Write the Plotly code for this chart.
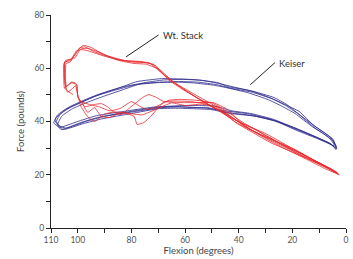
import plotly.graph_objects as go

# ---- Wt. Stack (red) repetitions: flexion (deg), force (lb) ----
red1_x = [101.8, 104.4, 104.8, 104.8, 102.9, 101.1, 99.3, 97.4, 93.8, 86.4, 77.9, 73.5, 68.8, 62.5, 56.3, 47.8, 40.4, 29.4, 18.4, 11.0, 2.9,
          7.4, 14.7, 22.1, 29.4, 36.8, 40.4, 44.1, 49.6, 55.1, 60.7, 68.0, 70.6, 73.5, 75.4, 80.1, 83.8, 86.4, 89.0, 91.2, 93.8, 97.4, 100.0, 100.4, 102.2]
red1_y = [50.1, 52.0, 55.7, 62.4, 62.8, 65.0, 67.7, 68.0, 66.2, 63.6, 62.1, 62.1, 58.3, 53.5, 49.3, 44.5, 39.3, 34.0, 28.8, 25.0, 20.2,
          22.1, 25.8, 29.5, 33.3, 37.8, 40.7, 44.5, 47.1, 47.1, 47.1, 47.5, 49.0, 50.1, 49.3, 45.6, 42.6, 43.4, 45.6, 46.7, 46.4, 45.6, 49.3, 53.8, 54.6]

red2_x = [102.2, 104.0, 105.0, 105.2, 104.5, 102.5, 100.5, 98.5, 96.0, 90.0, 84.0, 78.0, 72.0, 67.5, 63.0, 57.0, 50.0, 42.0, 33.0, 24.0, 15.0, 8.0, 3.5,
          6.0, 12.0, 20.0, 28.0, 35.0, 41.0, 46.0, 52.0, 58.0, 64.3, 68.0, 70.6, 72.8, 75.4, 77.9, 79.0, 83.8, 88.2, 91.2, 93.8, 96.3, 98.5, 100.0, 100.4, 101.1]
red2_y = [54.6, 53.5, 52.5, 61.5, 63.0, 63.5, 66.5, 67.0, 66.5, 64.5, 63.0, 62.5, 61.5, 57.0, 54.0, 50.5, 46.5, 41.0, 36.5, 31.5, 27.0, 23.5, 21.0,
          22.5, 25.0, 28.5, 32.0, 36.0, 39.5, 43.5, 46.5, 47.5, 47.7, 47.3, 44.5, 41.9, 39.6, 38.9, 41.9, 43.4, 41.5, 41.9, 45.2, 43.4, 47.1, 49.3, 53.8, 54.6]

red3_x = [101.1, 102.5, 104.2, 104.6, 104.4, 103.0, 101.5, 99.8, 98.0, 95.0, 90.0, 82.0, 76.0, 71.0, 66.0, 60.0, 53.0, 45.0, 37.0, 30.0, 22.0, 14.0, 7.0, 2.5,
          5.0, 10.0, 17.0, 25.0, 32.0, 38.0, 43.0, 48.0, 54.0, 60.0, 65.0, 71.0, 76.0, 82.0, 86.4, 90.0, 93.8, 96.5, 99.0, 100.8]
red3_y = [54.6, 54.8, 53.0, 56.0, 61.8, 62.2, 64.5, 67.0, 68.6, 67.8, 65.0, 62.8, 62.5, 61.0, 55.5, 51.5, 47.5, 42.5, 38.5, 35.5, 31.0, 26.5, 22.8, 20.0,
          21.5, 24.0, 27.5, 31.5, 35.0, 38.5, 42.0, 45.5, 46.5, 46.0, 47.0, 44.5, 42.5, 43.2, 43.6, 42.8, 40.0, 42.0, 46.0, 53.5]

red4_x = [100.8, 103.8, 104.9, 105.0, 103.5, 101.0, 99.0, 96.5, 92.0, 85.0, 79.0, 74.5, 69.5, 64.0, 58.0, 51.0, 44.0, 36.0, 27.0, 19.0, 12.0, 6.5, 3.0,
          6.0, 11.0, 18.0, 26.0, 33.0, 39.0, 44.0, 50.0, 56.0, 62.0, 66.0, 69.0, 72.0, 74.0, 76.5, 80.0, 84.0, 88.0, 92.0, 96.0, 99.0]
red4_y = [53.5, 51.0, 55.0, 62.0, 63.0, 64.0, 67.2, 67.5, 66.0, 63.0, 61.8, 61.5, 59.5, 54.5, 50.5, 46.0, 42.5, 37.0, 33.0, 29.5, 25.5, 22.5, 20.5,
          22.0, 24.5, 28.0, 32.5, 36.5, 40.0, 43.5, 47.0, 48.0, 48.3, 48.0, 46.5, 45.0, 44.5, 45.5, 47.5, 45.0, 44.0, 45.5, 46.5, 47.5]

# ---- Keiser (blue) repetitions ----
blue1_x = [108.5, 107.5, 103.7, 98.9, 92.6, 85.0, 77.9, 68.8, 62.0, 56.3, 47.8, 44.1, 35.7, 26.8, 22.1, 18.4, 11.0, 7.0, 4.8, 3.7,
           3.7, 5.5, 11.0, 18.4, 26.8, 34.9, 44.1, 51.5, 56.3, 62.0, 68.8, 80.9, 92.6, 98.9, 106.3, 108.5]
blue1_y = [40.5, 42.5, 45.2, 47.5, 50.1, 52.5, 55.0, 56.1, 56.0, 55.7, 54.6, 53.1, 51.6, 49.0, 46.4, 43.4, 37.8, 35.0, 33.3, 30.3,
           29.5, 31.4, 34.0, 37.0, 40.4, 42.2, 43.4, 45.2, 45.2, 45.5, 45.2, 43.4, 41.5, 39.6, 37.0, 40.5]

blue2_x = [108.0, 106.5, 102.5, 97.5, 91.0, 84.0, 77.0, 69.0, 62.0, 55.5, 48.0, 43.0, 35.0, 27.5, 22.5, 18.0, 11.5, 7.5, 5.0, 3.5,
           3.5, 5.0, 10.5, 18.0, 26.0, 34.0, 43.0, 50.5, 57.0, 63.0, 70.0, 80.0, 91.0, 98.0, 105.5, 108.0]
blue2_y = [40.0, 42.8, 45.5, 47.8, 50.5, 52.8, 54.2, 54.8, 55.0, 54.8, 53.8, 52.5, 51.0, 48.5, 46.0, 43.0, 37.5, 34.8, 33.0, 30.5,
           29.8, 31.0, 33.5, 36.5, 40.0, 42.0, 43.0, 44.5, 44.8, 45.0, 44.8, 43.0, 41.0, 39.2, 37.0, 40.0]

blue3_x = [107.5, 106.0, 102.0, 96.5, 90.0, 83.0, 76.0, 68.0, 61.0, 54.0, 47.0, 42.0, 34.5, 28.0, 23.0, 17.5, 12.0, 8.0, 5.5, 4.0,
           4.0, 6.0, 12.0, 19.0, 27.0, 35.5, 42.5, 49.0, 55.0, 61.5, 69.0, 79.0, 90.0, 97.0, 104.5, 107.5]
blue3_y = [38.8, 42.0, 44.8, 47.2, 49.6, 52.0, 54.4, 55.6, 55.8, 55.5, 54.2, 53.0, 51.2, 48.8, 46.5, 43.8, 38.5, 35.8, 33.8, 31.0,
           30.2, 31.8, 34.5, 37.5, 40.8, 43.0, 44.0, 45.8, 46.0, 46.0, 45.5, 44.0, 42.0, 40.0, 37.5, 38.8]

blue4_x = [109.0, 108.0, 104.5, 99.5, 93.5, 86.0, 78.5, 70.0, 63.0, 57.0, 49.0, 45.0, 36.5, 29.0, 24.0, 19.0, 12.5, 8.5, 6.0, 4.5,
           4.5, 6.5, 12.5, 19.5, 28.0, 36.0, 45.0, 52.0, 58.5, 64.0, 71.0, 81.5, 93.0, 99.5, 106.8, 109.0]
blue4_y = [39.5, 41.5, 44.5, 46.8, 49.5, 51.8, 53.8, 54.6, 54.8, 54.5, 53.6, 52.8, 50.8, 48.2, 45.8, 43.0, 38.0, 35.5, 33.5, 31.5,
           30.8, 32.0, 34.8, 37.8, 40.8, 42.8, 44.0, 45.0, 45.4, 45.6, 45.5, 44.0, 42.2, 40.2, 37.8, 39.5]

red_reps = [(red1_x, red1_y), (red2_x, red2_y), (red3_x, red3_y), (red4_x, red4_y)]
blue_reps = [(blue1_x, blue1_y), (blue2_x, blue2_y), (blue3_x, blue3_y), (blue4_x, blue4_y)]

x_tickvals = [110, 100, 90, 80, 70, 60, 50, 40, 30, 20, 10, 0]
x_ticktext = ["110", "100", "", "80", "", "60", "", "40", "", "20", "", "0"]
y_tickvals = [0, 10, 20, 30, 40, 50, 60, 70, 80]
y_ticktext = ["0", "", "20", "", "40", "", "60", "", "80"]

RED = "#e8262c"
BLUE = "#2c2a8c"

fig = go.Figure()
for xs, ys in blue_reps:
    fig.add_trace(go.Scatter(x=xs, y=ys, mode="lines", line=dict(color=BLUE, width=0.8, shape="spline", smoothing=0.4),
                             showlegend=False, hoverinfo="skip"))
for xs, ys in red_reps:
    fig.add_trace(go.Scatter(x=xs, y=ys, mode="lines", line=dict(color=RED, width=0.8, shape="spline", smoothing=0.4),
                             showlegend=False, hoverinfo="skip"))

font_family = "Lato, 'DejaVu Sans', sans-serif"

# pointer lines and labels
fig.add_shape(type="line", x0=82.0, y0=64.3, x1=69.9, y1=72.5, xref="x", yref="y", line=dict(color="#222", width=1))
fig.add_shape(type="line", x0=35.7, y0=53.8, x1=26.5, y1=62.1, xref="x", yref="y", line=dict(color="#222", width=1))
fig.add_annotation(x=68.8, y=72.3, text="Wt. Stack", showarrow=False, xanchor="left", yanchor="middle",
                   font=dict(size=9.5, color="#333", family=font_family))
fig.add_annotation(x=25.8, y=61.6, text="Keiser", showarrow=False, xanchor="left", yanchor="middle",
                   font=dict(size=9.5, color="#333", family=font_family))

fig.update_layout(
    width=353, height=259,
    margin=dict(l=51, r=4, t=15, b=30),
    paper_bgcolor="white", plot_bgcolor="white",
    font=dict(family=font_family, color="#555", size=9),
)
fig.update_xaxes(range=[110, 0], tickvals=x_tickvals, ticktext=x_ticktext, ticks="outside", ticklen=4,
                 tickcolor="#222", showline=True, linecolor="#222", linewidth=1, showgrid=False, zeroline=False,
                 ticklabeloverflow="allow",
                 title=dict(text="Flexion (degrees)", standoff=3, font=dict(size=9.5, color="#444")),
                 tickfont=dict(size=8.5, color="#555"))
fig.update_yaxes(range=[0, 80], tickvals=y_tickvals, ticktext=y_ticktext, ticks="outside", ticklen=4,
                 tickcolor="#222", showline=True, linecolor="#222", linewidth=1, showgrid=False, zeroline=False,
                 title=dict(text="Force (pounds)", standoff=8, font=dict(size=9.5, color="#444")),
                 tickfont=dict(size=8.5, color="#555"))

# remove the page's default body margin so the figure sits at the window's top-left corner
fig.write_html("out.html", config={"displayModeBar": False, "staticPlot": True},
               post_script="document.body.style.margin='0';document.body.style.overflow='hidden';")
